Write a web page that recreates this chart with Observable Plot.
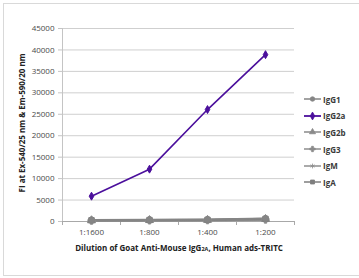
<!DOCTYPE html>
<html><head><meta charset="utf-8">
<script src="https://cdn.jsdelivr.net/npm/d3@7"></script>
<script src="https://cdn.jsdelivr.net/npm/@observablehq/plot@0.6"></script>
<style>
html,body{margin:0;padding:0;background:#fff;}
#wrap{position:relative;width:359px;height:278px;overflow:hidden;}
#frame{position:absolute;left:3px;top:3px;width:370px;height:273px;border:1.5px solid #d9d9d9;box-sizing:border-box;}
#chart{position:absolute;left:0;top:0;}
#legend{position:absolute;left:304px;top:91px;font:bold 8px "Open Sans",sans-serif;color:#3a3a3a;}
.item{display:flex;align-items:center;height:16.6px;}
.item svg{margin-right:2px;}
</style></head><body><div id="wrap"><div id="frame"></div><div id="chart"></div><div id="legend"></div></div>
<script>
const categories = ["1:1600", "1:800", "1:400", "1:200"];
const seriesNames = ["IgG1", "IgG2a", "IgG2b", "IgG3", "IgM", "IgA"];
const IgG1  = [350, 400, 450, 700];
const IgG2a = [5900, 12200, 26100, 38900];
const IgG2b = [250, 300, 350, 550];
const IgG3  = [200, 250, 300, 450];
const IgM   = [150, 200, 250, 400];
const IgA   = [300, 350, 400, 600];
const yTicks = [0, 5000, 10000, 15000, 20000, 25000, 30000, 35000, 40000, 45000];

const seriesValues = {IgG1, IgG2a, IgG2b, IgG3, IgM, IgA};
const colors = ["#858585", "#4b0f9c", "#8a8a8a", "#8c8c8c", "#8e8e8e", "#7e7e7e"];
const symbols = [d3.symbolCircle, d3.symbolDiamond, d3.symbolTriangle, d3.symbolCross, d3.symbolAsterisk, d3.symbolSquare];

const rows = [];
for (const s of seriesNames) seriesValues[s].forEach((v, i) => rows.push({s, i, v}));
const order = ["IgG2b","IgG3","IgM","IgA","IgG1","IgG2a"];
rows.sort((a, b) => order.indexOf(a.s) - order.indexOf(b.s));

const xDomain = [-0.5, categories.length - 0.5];
const bounds = d3.range(categories.length + 1).map(k => k - 0.5);
const centers = categories.map((_, i) => i);

const chart = Plot.plot({
  width: 359, height: 278,
  marginLeft: 62, marginRight: 65, marginTop: 28, marginBottom: 57,
  style: {fontFamily: "'Open Sans', sans-serif", fontSize: "8px", color: "#4a4a4a", background: "transparent"},
  x: {type: "linear", domain: xDomain},
  y: {domain: [0, 45000]},
  color: {domain: seriesNames, range: colors},
  symbol: {domain: seriesNames, range: symbols},
  marks: [
    Plot.ruleY(yTicks.filter(d => d > 0), {stroke: "#cfcfcf", strokeWidth: 1}),
    Plot.ruleX([xDomain[0]], {stroke: "#c4c4c4"}),
    Plot.axisY({ticks: yTicks, tickSize: 4, tickPadding: 4, label: null, stroke: "#c4c4c4", tickFormat: d => String(d), fill: "#4a4a4a"}),
    Plot.axisX({ticks: bounds, tickSize: 4, tickFormat: () => "", label: null, stroke: "#aaa"}),
    Plot.axisX({ticks: centers, tickSize: 0, tickPadding: 8, tickFormat: i => categories[i], label: null, fill: "#4a4a4a"}),
    Plot.ruleY([0], {stroke: "#a8a8a8", strokeWidth: 1}),
    Plot.line(rows, {x: "i", y: "v", z: "s", stroke: "s", strokeWidth: d => d.s === "IgG2a" ? 1.6 : 2.2}),
    Plot.dot(rows, {x: "i", y: "v", symbol: "s", fill: "s", stroke: "s", strokeWidth: 1, r: d => d.s === "IgG2a" ? 2.2 : 3.4})
  ]
});
document.getElementById("chart").appendChild(chart);

const svg = d3.select(chart);
// axis titles
svg.append("text")
  .attr("transform", "translate(25,123) rotate(-90)")
  .attr("text-anchor", "middle")
  .style("font", "bold 8px 'Open Sans', sans-serif").attr("fill", "#222")
  .text("FI at Ex-540/25 nm & Em-590/20 nm");
const xt = svg.append("text")
  .attr("x", 179).attr("y", 251)
  .attr("text-anchor", "middle")
  .style("font", "bold 8px 'Open Sans', sans-serif").attr("fill", "#222");
xt.append("tspan").text("Dilution of Goat Anti-Mouse IgG");
xt.append("tspan").style("font-size", "5.5px").text("2A");
xt.append("tspan").text(", Human ads-TRITC");

// legend
const leg = d3.select("#legend");
seriesNames.forEach((s, k) => {
  const it = leg.append("div").attr("class", "item");
  const sv = it.append("svg").attr("width", 17).attr("height", 10);
  sv.append("line").attr("x1", 0).attr("x2", 17).attr("y1", 5).attr("y2", 5)
    .attr("stroke", colors[k]).attr("stroke-width", k === 1 ? 1.8 : 1.5);
  sv.append("path").attr("transform", "translate(8.5,5)")
    .attr("d", d3.symbol(symbols[k], k === 1 ? 18 : 16)())
    .attr("fill", colors[k]).attr("stroke", colors[k]).attr("stroke-width", 0.8);
  it.append("span").text(s);
});
</script>
</body></html>
